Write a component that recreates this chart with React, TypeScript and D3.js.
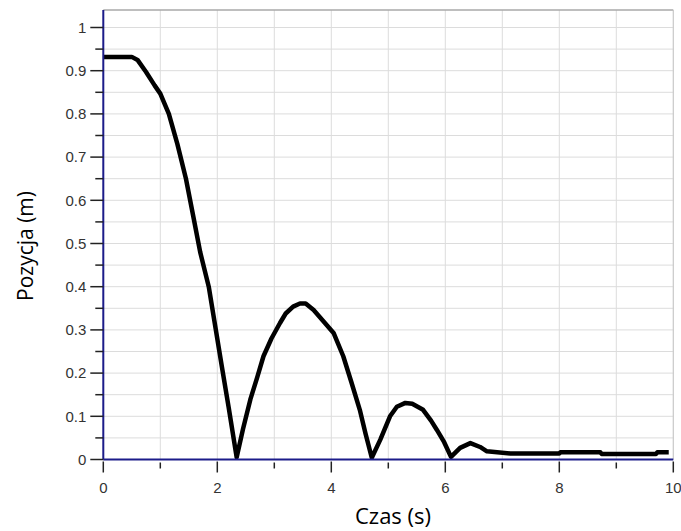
import React from "react";
import * as d3 from "d3";

const times = [0, 0.5, 0.6, 0.75, 0.9, 1.0, 1.15, 1.3, 1.45, 1.58, 1.7, 1.85, 1.95, 2.08, 2.2, 2.34, 2.45, 2.58, 2.7, 2.81, 2.95, 3.1, 3.2, 3.33, 3.45, 3.55, 3.69, 3.85, 4.04, 4.21, 4.35, 4.5, 4.6, 4.71, 4.86, 5.03, 5.15, 5.3, 5.42, 5.61, 5.75, 5.85, 5.98, 6.1, 6.26, 6.44, 6.61, 6.73, 7.14, 8.0, 8.02, 8.72, 8.74, 9.7, 9.72, 9.92];
const positions = [0.932, 0.932, 0.925, 0.897, 0.866, 0.847, 0.8, 0.73, 0.65, 0.562, 0.48, 0.4, 0.32, 0.215, 0.12, 0.005, 0.07, 0.139, 0.19, 0.239, 0.28, 0.316, 0.338, 0.354, 0.361, 0.361, 0.346, 0.322, 0.293, 0.239, 0.18, 0.115, 0.06, 0.004, 0.046, 0.1, 0.122, 0.131, 0.129, 0.115, 0.09, 0.069, 0.04, 0.006, 0.027, 0.038, 0.029, 0.019, 0.014, 0.014, 0.017, 0.017, 0.013, 0.013, 0.017, 0.017];

const xMajorTicks = [0, 2, 4, 6, 8, 10];
const xTickLabels = ["0", "2", "4", "6", "8", "10"];
const xMinorTicks = [1, 3, 5, 7, 9];
const yMajorTicks = [0, 0.1, 0.2, 0.3, 0.4, 0.5, 0.6, 0.7, 0.8, 0.9, 1];
const yTickLabels = ["0", "0.1", "0.2", "0.3", "0.4", "0.5", "0.6", "0.7", "0.8", "0.9", "1"];
const yMinorTicks = [0.05, 0.15, 0.25, 0.35, 0.45, 0.55, 0.65, 0.75, 0.85, 0.95];
const xTitle = "Czas (s)";
const yTitle = "Pozycja (m)";

export default function App() {
  const W = 681;
  const H = 531;
  const x = d3.scaleLinear().domain([0, 10]).range([103.3, 673.3]);
  const y = d3.scaleLinear().domain([0, 1]).range([459.5, 27.5]);
  const yTop = 10;
  const xGrid = d3.range(0, 11, 1);
  const yGrid = d3.range(0, 21, 1).map((i) => i * 0.05);
  const data = times.map((t, i) => [t, positions[i]] as [number, number]);
  const line = d3
    .line<[number, number]>()
    .x((d) => x(d[0]))
    .y((d) => y(d[1]))
    .curve(d3.curveLinear);
  const axisColor = "#1c1c8a";
  const tickFont = "'Liberation Sans', Arial, sans-serif";
  const titleFont = "'Open Sans', sans-serif";
  return (
    <svg
      width={W}
      height={H}
      style={{ position: "absolute", left: 0, top: 0, background: "#fff" }}
    >
      <rect x={0} y={0} width={W} height={H} fill="#fff" />
      {xGrid.map((v) => (
        <line key={"gx" + v} x1={x(v)} x2={x(v)} y1={yTop} y2={y(0)} stroke="#dcdcdc" strokeWidth={1} />
      ))}
      {yGrid.map((v) => (
        <line key={"gy" + v} x1={x(0)} x2={x(10)} y1={y(v)} y2={y(v)} stroke="#dcdcdc" strokeWidth={1} />
      ))}
      <line x1={x(0)} x2={x(10)} y1={yTop} y2={yTop} stroke="#a8a8a8" strokeWidth={1.5} />
      <line x1={x(10)} x2={x(10)} y1={yTop} y2={y(0)} stroke="#c8c8c8" strokeWidth={1} />
      <path
        d={line(data) || ""}
        fill="none"
        stroke="#000"
        strokeWidth={4.5}
        strokeLinejoin="round"
        strokeLinecap="butt"
      />
      <line x1={x(0)} x2={x(0)} y1={yTop} y2={y(0)} stroke={axisColor} strokeWidth={2} />
      <line x1={x(0)} x2={x(10)} y1={y(0)} y2={y(0)} stroke={axisColor} strokeWidth={2} />
      {yMajorTicks.map((v, i) => (
        <g key={"ym" + v}>
          <line x1={x(0) - 13} x2={x(0)} y1={y(v)} y2={y(v)} stroke="#222" strokeWidth={1.5} />
          <text
            x={x(0) - 17}
            y={y(v)}
            dy="0.35em"
            textAnchor="end"
            fontFamily={tickFont}
            fontSize={15}
            fill="#333"
          >
            {yTickLabels[i]}
          </text>
        </g>
      ))}
      {yMinorTicks.map((v) => (
        <line key={"yn" + v} x1={x(0) - 8} x2={x(0)} y1={y(v)} y2={y(v)} stroke="#222" strokeWidth={1.5} />
      ))}
      {xMajorTicks.map((v, i) => (
        <g key={"xm" + v}>
          <line x1={x(v)} x2={x(v)} y1={y(0) + 2} y2={y(0) + 13} stroke="#222" strokeWidth={1.5} />
          <text
            x={x(v)}
            y={488}
            dy="0.35em"
            textAnchor="middle"
            fontFamily={tickFont}
            fontSize={15}
            fill="#333"
          >
            {xTickLabels[i]}
          </text>
        </g>
      ))}
      {xMinorTicks.map((v) => (
        <line key={"xn" + v} x1={x(v)} x2={x(v)} y1={y(0) + 3} y2={y(0) + 9} stroke="#222" strokeWidth={1.5} />
      ))}
      <text
        x={393}
        y={524}
        textAnchor="middle"
        fontFamily={titleFont}
        fontSize={22}
        fill="#000"
      >
        {xTitle}
      </text>
      <text
        transform={`translate(33, 246) rotate(-90)`}
        textAnchor="middle"
        fontFamily={titleFont}
        fontSize={21}
        fill="#000"
      >
        {yTitle}
      </text>
    </svg>
  );
}
